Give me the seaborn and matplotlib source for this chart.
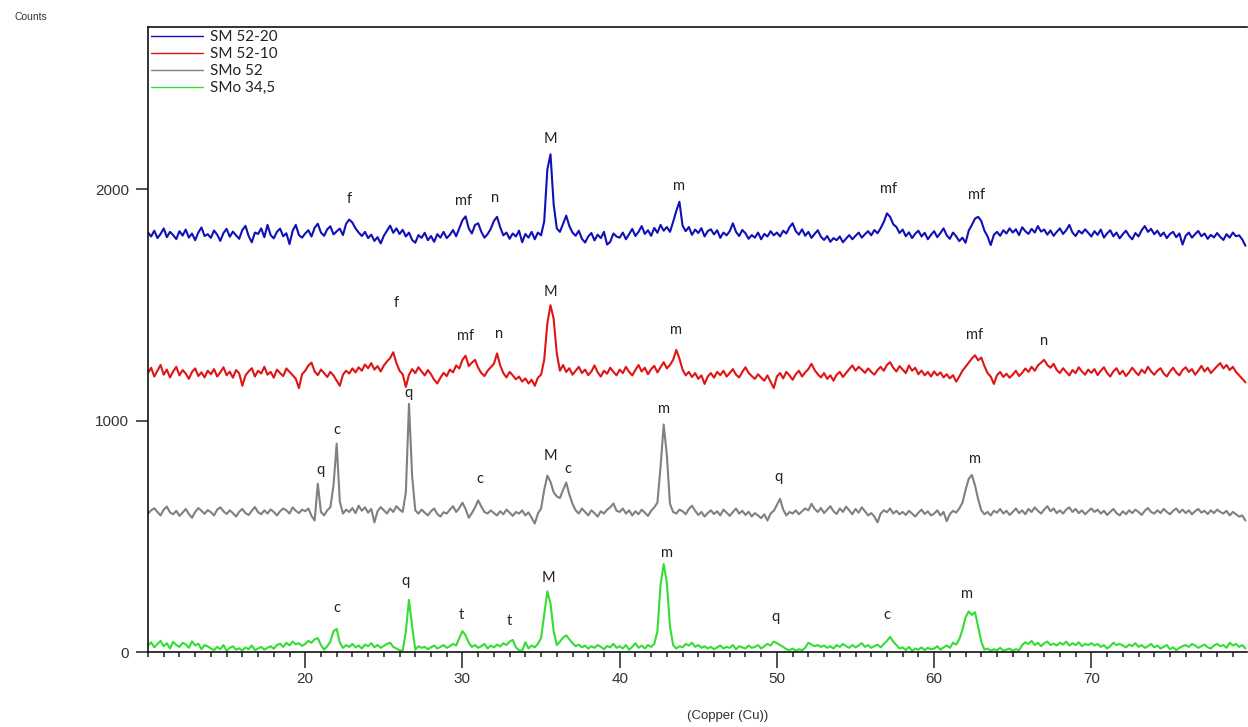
import numpy as np
import pandas as pd
import matplotlib
matplotlib.use("Agg")
import matplotlib.pyplot as plt
from matplotlib import font_manager
from matplotlib.ticker import FixedLocator, MultipleLocator
import seaborn as sns

# ---------------- data ----------------
THETA_START = 10.0   # 2-theta of first sample (deg)
THETA_STEP = 0.2     # sampling step (deg)

series_names = ["SM 52-20", "SM 52-10", "SMo 52", "SMo 34,5"]

sm52_20 = [
    1812, 1795, 1820, 1788, 1806, 1830, 1792, 1815, 1801, 1784,
    1818, 1799, 1825, 1790, 1808, 1779, 1812, 1834, 1797, 1805,
    1789, 1821, 1803, 1776, 1810, 1828, 1794, 1816, 1800, 1785,
    1823, 1841, 1797, 1770, 1812, 1806, 1830, 1792, 1845, 1801,
    1787, 1815, 1829, 1796, 1809, 1762, 1820, 1845, 1801, 1790,
    1808, 1822, 1795, 1833, 1850, 1812, 1798, 1826, 1839, 1804,
    1817, 1829, 1801, 1850, 1868, 1855, 1830, 1812, 1797, 1815,
    1788, 1803, 1776, 1792, 1765, 1798, 1820, 1842, 1811, 1830,
    1806, 1824, 1795, 1812, 1780, 1768, 1801, 1789, 1811, 1779,
    1797, 1772, 1805, 1790, 1815, 1788, 1802, 1823, 1796, 1830,
    1865, 1882, 1830, 1808, 1845, 1852, 1815, 1790, 1805, 1828,
    1862, 1880, 1835, 1800, 1812, 1785, 1808, 1795, 1820, 1770,
    1806, 1790, 1815, 1783, 1812, 1800, 1860, 2085, 2150, 1935,
    1830, 1815, 1850, 1885, 1840, 1812, 1798, 1820, 1785, 1769,
    1795, 1810, 1778, 1803, 1788, 1815, 1760, 1772, 1808, 1795,
    1790, 1812, 1783, 1805, 1828, 1797, 1815, 1840, 1806, 1822,
    1798, 1832, 1811, 1845, 1820, 1836, 1815, 1858, 1905, 1945,
    1842, 1818, 1836, 1802, 1825, 1810, 1831, 1795, 1818, 1826,
    1804, 1822, 1789, 1812, 1800, 1818, 1852, 1815, 1797, 1823,
    1809, 1785, 1801, 1790, 1812, 1783, 1806, 1795, 1818, 1800,
    1812, 1795, 1820, 1808, 1835, 1852, 1818, 1803, 1826, 1798,
    1815, 1789, 1806, 1822, 1794, 1780, 1797, 1772, 1788, 1779,
    1795, 1770, 1786, 1801, 1783, 1798, 1812, 1790, 1805, 1818,
    1800, 1823, 1809, 1831, 1858, 1895, 1880, 1848, 1836, 1810,
    1825, 1796, 1813, 1788, 1807, 1820, 1795, 1811, 1783, 1802,
    1818, 1792, 1810, 1830, 1800, 1785, 1812, 1796, 1775, 1790,
    1768, 1820, 1845, 1872, 1880, 1862, 1820, 1795, 1758, 1802,
    1815, 1798, 1822, 1808, 1830, 1812, 1826, 1801, 1835, 1818,
    1806, 1828, 1812, 1840, 1816, 1825, 1803, 1821, 1798, 1815,
    1830, 1806, 1822, 1845, 1812, 1797, 1820, 1808, 1826, 1811,
    1795, 1818, 1802, 1825, 1790, 1808, 1822, 1796, 1812, 1787,
    1805, 1820, 1798, 1783, 1810, 1795, 1822, 1840, 1815, 1828,
    1805, 1820, 1797, 1812, 1788, 1806, 1815, 1792, 1808, 1760,
    1798, 1812, 1790, 1805, 1819, 1796, 1808, 1785, 1802, 1791,
    1810, 1793, 1780, 1805, 1790, 1812, 1796, 1800, 1782, 1755,
]

sm52_10 = [
    1205, 1228, 1190, 1215, 1240, 1198, 1220, 1186, 1212, 1232,
    1195, 1218, 1203, 1180, 1210, 1225, 1192, 1208, 1186, 1215,
    1200, 1222, 1190, 1208, 1230, 1196, 1211, 1185, 1218, 1204,
    1150, 1195, 1212, 1226, 1190, 1215, 1203, 1232, 1198, 1210,
    1185, 1220, 1205, 1192, 1225, 1210, 1196, 1180, 1140, 1200,
    1215, 1238, 1250, 1212, 1196, 1220, 1205, 1188, 1210, 1195,
    1172, 1150, 1198, 1215, 1203, 1225, 1208, 1230, 1215, 1242,
    1226, 1248, 1220, 1235, 1212, 1238, 1255, 1270, 1295, 1248,
    1215, 1200, 1145, 1198, 1222, 1205, 1230, 1212, 1195, 1218,
    1200, 1176, 1160, 1185, 1206, 1192, 1220, 1208, 1238, 1225,
    1262, 1280, 1235, 1250, 1262, 1228, 1205, 1192, 1215, 1230,
    1245, 1290, 1238, 1205, 1186, 1210, 1195, 1178, 1190, 1168,
    1182, 1160, 1176, 1150, 1185, 1198, 1262, 1420, 1498, 1440,
    1290, 1215, 1240, 1210, 1226, 1198, 1215, 1232, 1205, 1220,
    1196, 1212, 1238, 1208, 1190, 1215, 1202, 1228, 1210, 1195,
    1220, 1205, 1232, 1210, 1195, 1218, 1240, 1212, 1228, 1200,
    1222, 1236, 1208, 1230, 1252, 1225, 1240, 1262, 1305, 1268,
    1220, 1195, 1210, 1188, 1205, 1180, 1195, 1158, 1190, 1205,
    1185, 1210, 1196, 1215, 1190, 1205, 1222, 1198, 1186, 1210,
    1230, 1206, 1192, 1180, 1200, 1185, 1172, 1195, 1168, 1140,
    1190, 1205, 1182, 1210, 1195, 1176, 1200, 1215, 1190, 1208,
    1222, 1245, 1218, 1200, 1186, 1205, 1180, 1195, 1172, 1198,
    1210, 1188, 1205, 1222, 1238, 1215, 1232, 1220, 1206, 1225,
    1210, 1198, 1218, 1232, 1215, 1240, 1252, 1228, 1212, 1235,
    1220, 1205, 1238, 1215, 1228, 1200, 1216, 1195, 1210, 1190,
    1212, 1195, 1208, 1186, 1200, 1182, 1196, 1168, 1190, 1215,
    1232, 1250, 1268, 1282, 1260, 1272, 1235, 1205, 1190, 1158,
    1196, 1210, 1188, 1202, 1185, 1198, 1215, 1192, 1206, 1225,
    1210, 1232, 1215, 1238, 1250, 1262, 1240, 1228, 1245, 1218,
    1205, 1226, 1210, 1195, 1218, 1205, 1230, 1212, 1198, 1220,
    1206, 1222, 1196, 1215, 1230, 1205, 1190, 1212, 1226, 1200,
    1215, 1192, 1208, 1228, 1210, 1196, 1220, 1205, 1232, 1212,
    1198, 1215, 1226, 1203, 1190, 1212, 1228, 1208, 1195, 1218,
    1230, 1210, 1222, 1198, 1215, 1236, 1212, 1228, 1205, 1220,
    1235, 1248, 1225, 1240, 1218, 1232, 1210, 1195, 1180, 1165,
]

smo52 = [
    598, 612, 621, 605, 590, 615, 628, 603, 595, 610,
    588, 602, 618, 596, 580, 605, 622, 610, 597, 613,
    604, 590, 615, 625, 608, 596, 612, 600, 585, 606,
    618, 600, 592, 610, 626, 604, 595, 612, 598, 616,
    605, 590, 608, 620, 612, 598, 625, 610, 600, 615,
    608, 620, 588, 568, 727, 605, 590, 612, 625, 720,
    900, 650, 598, 615, 605, 622, 600, 632, 610, 625,
    602, 618, 560, 608, 626, 612, 598, 620, 605, 630,
    615, 605, 690, 1072, 760, 612, 598, 615, 602, 590,
    608, 620, 596, 585, 604, 598, 615, 630, 605, 622,
    645, 618, 580, 600, 625, 655, 628, 605, 598, 612,
    600, 590, 608, 595, 615, 602, 588, 605, 598, 612,
    590, 603, 580, 555, 598, 620, 700, 762, 735, 690,
    672, 665, 700, 732, 680, 640, 612, 598, 620, 605,
    590, 612, 600, 585, 608, 598, 615, 625, 642, 610,
    605, 620, 598, 612, 590, 608, 595, 615, 602, 588,
    610, 625, 645, 800, 983, 850, 640, 605, 598, 615,
    608, 595, 618, 632, 610, 592, 605, 585, 600, 612,
    596, 608, 590, 615, 602, 588, 605, 620, 598, 610,
    592, 606, 585, 600, 590, 578, 595, 568, 598, 610,
    635, 662, 615, 590, 605, 598, 612, 595, 608, 620,
    612, 640, 618, 605, 622, 600, 615, 630, 608, 596,
    620, 605, 628, 612, 595, 618, 602, 625, 608, 590,
    600, 585, 560, 598, 612, 604, 620, 598, 610, 595,
    605, 592, 610, 598, 585, 602, 615, 596, 608, 590,
    598, 612, 590, 605, 565, 595, 610, 602, 620, 645,
    700, 748, 765, 720, 660, 612, 595, 605, 590, 610,
    602, 618, 598, 610, 592, 605, 620, 600, 612, 595,
    618, 605, 625, 610, 598, 615, 630, 608, 620, 600,
    612, 598, 615, 625, 605, 618, 600, 612, 595, 608,
    620, 605, 615, 598, 610, 592, 605, 618, 600, 590,
    608, 595, 612, 600, 615, 605, 592, 610, 622, 605,
    598, 612, 600, 618, 605, 595, 610, 620, 602, 615,
    600, 612, 595, 608, 618, 602, 610, 596, 612, 600,
    615, 605, 598, 610, 590, 605, 595, 585, 590, 568,
]

smo34_5 = [
    28, 42, 20, 35, 48, 25, 38, 15, 44, 30,
    22, 40, 33, 18, 46, 28, 36, 12, 30, 24,
    15, 8, 22, 12, 30, 5, 18, 25, 10, 16,
    6, 20, 12, 28, 8, 15, 22, 10, 18, 25,
    14, 30, 36, 22, 40, 28, 45, 33, 38, 26,
    35, 48, 40, 55, 60, 30, 10, 25, 45, 90,
    100, 40, 18, 30, 22, 35, 20, 28, 15, 32,
    25, 38, 20, 30, 18, 26, 35, 40, 22, 15,
    8, 5, 90, 225, 110, 10, 25, 18, 22, 12,
    20, 28, 15, 22, 30, 18, 25, 35, 28, 60,
    90, 72, 40, 22, 30, 18, 25, 35, 15, 28,
    20, 32, 24, 38, 30, 45, 52, 20, 8, 5,
    42, 15, 28, 20, 35, 60, 160, 262, 210, 90,
    30, 45, 62, 72, 55, 38, 25, 32, 20, 28,
    15, 25, 18, 30, 22, 12, 26, 20, 35, 18,
    25, 15, 30, 10, 22, 38, 18, 28, 15, 30,
    22, 35, 90, 290, 380, 300, 110, 30, 15, 25,
    20, 35, 28, 40, 22, 30, 18, 25, 15, 22,
    12, 20, 28, 15, 22, 18, 30, 12, 25, 20,
    15, 28, 18, 22, 30, 15, 25, 35, 28, 45,
    38, 30, 22, 12, 8, 15, 5, 12, 8, 18,
    40, 32, 25, 30, 22, 28, 18, 25, 15, 30,
    22, 35, 25, 18, 30, 20, 28, 38, 22, 30,
    18, 25, 32, 20, 35, 48, 65, 45, 30, 15,
    20, 8, 22, 5, 15, 10, 20, 8, 18, 12,
    15, 25, 10, 20, 28, 18, 40, 32, 55, 95,
    150, 175, 160, 172, 110, 45, 10, 15, 5, 12,
    8, 18, 5, 10, 15, 6, 12, 8, 30, 42,
    35, 48, 30, 40, 25, 38, 45, 30, 36, 28,
    40, 32, 45, 28, 38, 30, 42, 25, 35, 30,
    38, 28, 35, 22, 30, 15, 25, 40, 30, 35,
    28, 20, 32, 25, 38, 22, 30, 18, 25, 35,
    20, 28, 15, 22, 30, 12, 20, 8, 18, 25,
    30, 22, 35, 28, 18, 25, 32, 20, 15, 28,
    35, 25, 30, 18, 40, 28, 35, 22, 30, 15,
]

series_values = [sm52_20, sm52_10, smo52, smo34_5]
series_colors = ["#1010b8", "#e01414", "#808080", "#33dd33"]

# peak tags: (text, 2-theta, counts position)
tag_text = ["f", "mf", "n", "M", "m", "mf", "mf",
            "f", "mf", "n", "M", "m", "mf", "n",
            "q", "c", "q", "c", "M", "c", "m", "q", "m",
            "c", "q", "t", "t", "M", "m", "q", "c", "m"]
tag_x = [22.8, 30.1, 32.1, 35.6, 43.8, 57.1, 62.7,
         25.8, 30.2, 32.3, 35.6, 43.6, 62.6, 67.0,
         21.0, 22.0, 26.6, 31.1, 35.6, 36.7, 42.8, 50.1, 62.6,
         22.0, 26.4, 29.9, 33.0, 35.5, 43.0, 49.9, 57.0, 62.1]
tag_y = [1957, 1948, 1961, 2216, 2013, 2000, 1974,
         1506, 1364, 1372, 1554, 1390, 1368, 1342,
         788, 961, 1121, 749, 848, 792, 1048, 758, 835,
         190, 307, 160, 134, 320, 429, 152, 160, 251]

x_major_ticks = [20, 30, 40, 50, 60, 70]
y_major_ticks = [0, 1000, 2000]

# ---------------- drawing ----------------
sns.set_style("white")
plt.rcParams["font.family"] = ["Lato", "DejaVu Sans"]

installed = {f.name for f in font_manager.fontManager.ttflist}
if "Liberation Sans Narrow" in installed:
    NARROW = ["Liberation Sans Narrow", "DejaVu Sans"]
    tick_size, small_size, axis_size = 12, 8.5, 10.5
else:
    NARROW = ["Liberation Sans", "DejaVu Sans"]
    tick_size, small_size, axis_size = 11, 7.5, 9.5

W, H = 1248, 727
fig = plt.figure(figsize=(W / 100, H / 100), dpi=100)
ax = fig.add_axes([148 / W, 75 / H, 1099 / W, 625 / H])

for name, vals, col in zip(series_names, series_values, series_colors):
    angles = THETA_START + THETA_STEP * np.arange(len(vals))
    df = pd.DataFrame({"angle": angles, "counts": vals})
    sns.lineplot(data=df, x="angle", y="counts", color=col, linewidth=1.5,
                 estimator=None, sort=False, ax=ax, label=name)

ax.set_xlim(10, 79.9)
ax.set_ylim(0, 2700)
ax.set_xlabel("")
ax.set_ylabel("")

ax.xaxis.set_major_locator(FixedLocator(x_major_ticks))
ax.xaxis.set_minor_locator(MultipleLocator(1))
ax.yaxis.set_major_locator(FixedLocator(y_major_ticks))
ax.tick_params(axis="x", which="major", direction="out", length=11.5, width=1.1,
               pad=3, labelsize=tick_size, colors="#222222", bottom=True, top=False)
ax.tick_params(axis="x", which="minor", direction="out", length=3.6, width=1.1,
               bottom=True, top=False, colors="#222222")
ax.tick_params(axis="y", which="major", direction="out", length=8.6, width=1.1,
               pad=5, labelsize=tick_size, colors="#222222", left=True, right=False)
for lab in ax.get_xticklabels() + ax.get_yticklabels():
    lab.set_fontfamily(NARROW)
    lab.set_color("#333333")

for side in ["top", "left", "bottom"]:
    ax.spines[side].set_visible(True)
    ax.spines[side].set_color("#111111")
    ax.spines[side].set_linewidth(1.2)
ax.spines["right"].set_visible(False)

for s, x, y in zip(tag_text, tag_x, tag_y):
    ax.text(x, y, s, ha="center", va="center", fontsize=10.5, color="#222222")

leg = ax.legend(loc="upper left", bbox_to_anchor=(0, 1), frameon=False,
                fontsize=11, handlelength=3.4, handletextpad=0.45,
                labelspacing=0.2, borderpad=0.2, borderaxespad=0)
for ln in leg.get_lines():
    ln.set_linewidth(1.0)
for t in leg.get_texts():
    t.set_color("#222222")

fig.text(31 / W, 1 - 17 / H, "Counts", ha="center", va="center",
         fontsize=small_size, family=NARROW, color="#333333")
fig.text(728 / W, 1 - 716 / H, "(Copper (Cu))", ha="center", va="center",
         fontsize=axis_size, family=NARROW, color="#333333")

fig.savefig("out.png", dpi=100)
